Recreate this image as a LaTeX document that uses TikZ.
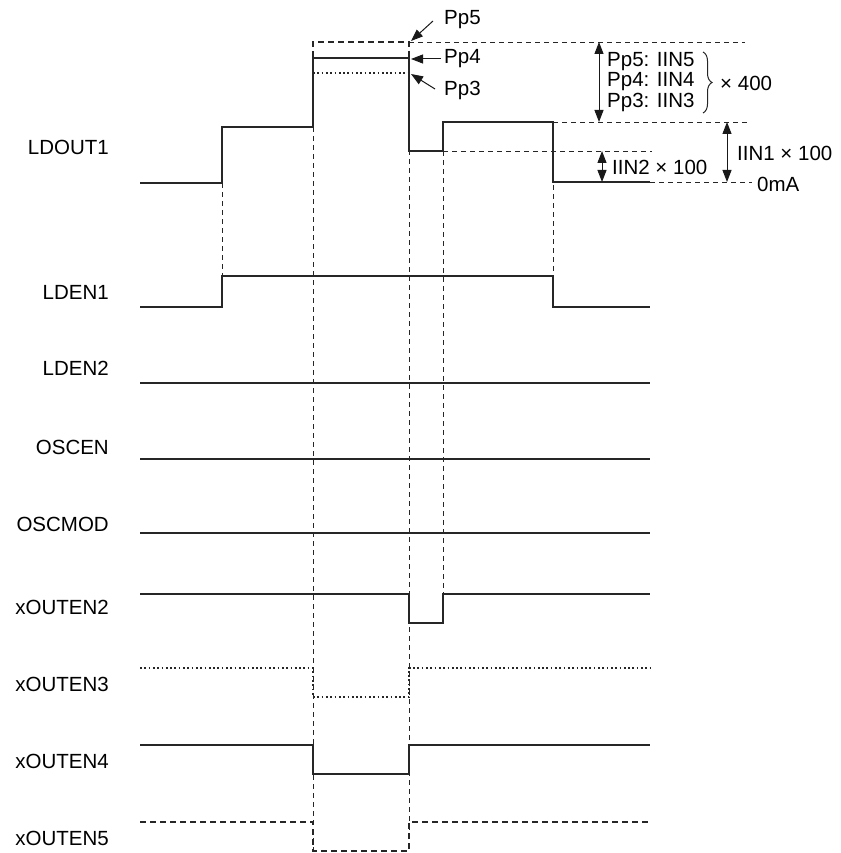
\documentclass[tikz,border=0pt]{standalone}
\usepackage{fontspec}
\setmainfont{Liberation Sans}
\usetikzlibrary{arrows.meta,decorations.pathreplacing}

\tikzset{
  sig/.style={black!85, line width=1.7pt},
  sigdash/.style={sig, dash pattern=on 6pt off 4pt},
  sigdot/.style={sig, dash pattern=on 1.7pt off 2.6pt},
  guide/.style={black!85, line width=0.8pt, dash pattern=on 5pt off 4pt},
  dim/.style={black!90, line width=1pt, {Triangle[length=12pt,width=9pt]}-{Triangle[length=12pt,width=9pt]}},
  ptr/.style={black!90, line width=1pt, -{Triangle[length=12pt,width=9pt]}},
  lbl/.style={draw=none, anchor=east, inner sep=0pt},
  txt/.style={draw=none, anchor=west, inner sep=0pt}
}

\begin{document}
\begin{tikzpicture}[x=1pt, y=-1pt, font=\fontsize{20.5}{24}\selectfont]
\useasboundingbox (0,0) rectangle (840,853);

% signal names
\node[lbl] (nLDOUT) at (109,147) {LDOUT1};
\node[lbl] (nLDEN1) at (109,292) {LDEN1};
\node[lbl] (nLDEN2) at (109,368) {LDEN2};
\node[lbl] (nOSCEN) at (109,447) {OSCEN};
\node[lbl] (nOSCMOD) at (109,524) {OSCMOD};
\node[lbl] (nOUT2) at (109,607) {xOUTEN2};
\node[lbl] (nOUT3) at (109,684) {xOUTEN3};
\node[lbl] (nOUT4) at (109,761) {xOUTEN4};
\node[lbl] (nOUT5) at (109,838) {xOUTEN5};

% guide lines
\draw[guide] (222,183) -- (222,276);
\draw[guide] (313,127) -- (313,851);
\draw[guide] (409,42) -- (409,851);
\draw[guide] (443,151) -- (443,594);
\draw[guide] (553,122) -- (553,276);
\draw[guide] (409,42) -- (745,42);
\draw[guide] (553,122) -- (750,122);
\draw[guide] (443,151) -- (652,151);
\draw[guide] (650,182) -- (752,182);

% LDOUT1
\draw[sigdash] (313,127) -- (313,42) -- (409,42) -- (409,58);
\draw[sig] (140,183) -- (222,183) -- (222,127) -- (313,127) -- (313,58) -- (409,58)
  -- (409,151) -- (443,151) -- (443,122) -- (553,122) -- (553,182) -- (650,182);
\draw[sigdot] (313,73) -- (409,73);

% LDEN1, LDEN2, OSCEN, OSCMOD
\draw[sig] (140,307) -- (222,307) -- (222,276) -- (553,276) -- (553,307) -- (650,307);
\draw[sig] (140,383) -- (650,383);
\draw[sig] (140,459) -- (650,459);
\draw[sig] (140,533) -- (650,533);

% xOUTEN2..5
\draw[sig] (140,594) -- (409,594) -- (409,623) -- (443,623) -- (443,594) -- (650,594);
\draw[sigdot] (140,668) -- (313,668) -- (313,697) -- (409,697) -- (409,668) -- (650,668);
\draw[sig] (140,745) -- (313,745) -- (313,774) -- (409,774) -- (409,745) -- (650,745);
\draw[sigdash] (140,822) -- (313,822) -- (313,851) -- (409,851) -- (409,822) -- (650,822);

% peak pointers
\node[txt] (pp5) at (444,20) {Pp5};
\node[txt] (pp4) at (444,59) {Pp4};
\node[txt] (pp3) at (444,90) {Pp3};
\coordinate (tip5) at (411,41);
\coordinate (tip4) at (411,59);
\coordinate (tip3) at (411,74);
\draw[ptr] (433,21) -- (tip5);
\draw[ptr] (pp4.west) ++(-3,0) -- (tip4);
\draw[ptr] (435,89) -- (tip3);

% current levels
\coordinate (a1) at (599,42);
\coordinate (a2) at (599,122);
\coordinate (b1) at (727,122);
\coordinate (b2) at (727,182);
\coordinate (c1) at (602,151);
\coordinate (c2) at (602,182);
\draw[dim] (a1) -- (a2);
\draw[dim] (b1) -- (b2);
\draw[dim] (c1) -- (c2);

\node[txt] (i5) at (607,62) {Pp5: IIN5};
\node[txt] (i4) at (607,82) {Pp4: IIN4};
\node[txt] (i3) at (607,102) {Pp3: IIN3};
\draw[black!85, line width=1pt, decorate, decoration={brace, amplitude=9pt}] (703,52) -- (703,113);
\node[txt] (x400) at (720,83) {× 400};
\node[txt] (i1) at (737,153) {IIN1 × 100};
\node[txt] (i2) at (612,167) {IIN2 × 100};
\node[txt] (zero) at (757,184) {0mA};
\end{tikzpicture}
\end{document}
